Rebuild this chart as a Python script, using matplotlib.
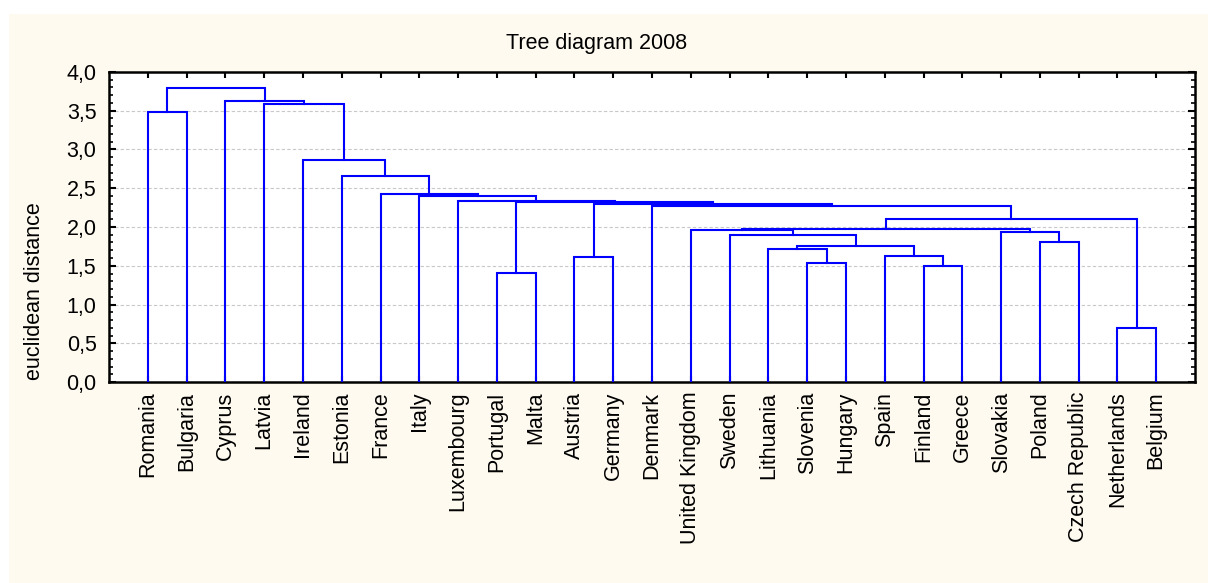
import matplotlib
matplotlib.use("Agg")
import matplotlib.pyplot as plt
from matplotlib.patches import Rectangle
from matplotlib.ticker import MultipleLocator, FuncFormatter

# leaves in plotted order
labels = ["Romania", "Bulgaria", "Cyprus", "Latvia", "Ireland", "Estonia", "France",
          "Italy", "Luxembourg", "Portugal", "Malta", "Austria", "Germany", "Denmark",
          "United Kingdom", "Sweden", "Lithuania", "Slovenia", "Hungary", "Spain",
          "Finland", "Greece", "Slovakia", "Poland", "Czech Republic", "Netherlands",
          "Belgium"]

# joins: a name is a leaf, an int is an earlier join
join_left = ["Netherlands", "Portugal", "Finland", "Slovenia", "Austria", "Spain",
             "Lithuania", 6, "Poland", "Sweden", "Slovakia", "United Kingdom", 11, 12,
             "Denmark", 4, 1, "Luxembourg", "Italy", "France", "Estonia", "Ireland",
             "Romania", "Latvia", "Cyprus", 22]
join_right = ["Belgium", "Malta", "Greece", "Hungary", "Germany", 2,
              3, 5, "Czech Republic", 7, 8, 9, 10, 0,
              13, 14, 15, 16, 17, 18, 19, 20,
              "Bulgaria", 21, 23, 24]
join_height = [0.70, 1.41, 1.50, 1.53, 1.61, 1.63, 1.71, 1.76, 1.81, 1.90, 1.93, 1.96, 1.97,
               2.10, 2.27, 2.30, 2.32, 2.34, 2.40, 2.42, 2.66, 2.86, 3.48, 3.59, 3.62, 3.79]

W, H = 1208, 583
FS = 15.5
fig = plt.figure(figsize=(W / 100, H / 100), dpi=100, facecolor="white")
plt.rcParams["font.family"] = ["Liberation Sans", "DejaVu Sans"]
fig.patches.append(Rectangle((9 / W, 0), 1 - 9 / W, (H - 14) / H, transform=fig.transFigure,
                             facecolor="#fffaf0", edgecolor="none", zorder=-10))

ax = fig.add_axes([109 / W, (H - 382) / H, (1195 - 109) / W, (382 - 72) / H])
ax.set_facecolor("white")

pos = {name: i + 1 for i, name in enumerate(labels)}
def where(c):
    if isinstance(c, int):
        return join_x[c], join_height[c]
    return pos[c], 0.0

join_x = []
for a, b, h in zip(join_left, join_right, join_height):
    xa, ya = where(a)
    xb, yb = where(b)
    ax.plot([xa, xa, xb, xb], [ya, h, h, yb], color="#0000ff", lw=1.5,
            solid_joinstyle="miter", zorder=3)
    join_x.append((xa + xb) / 2)

ax.set_xlim(0, len(labels) + 1)
ax.set_ylim(0, 4)
ax.set_xticks(range(1, len(labels) + 1))
ax.set_xticklabels(labels, rotation=90, fontsize=FS)
ax.yaxis.set_major_locator(MultipleLocator(0.5))
ax.yaxis.set_minor_locator(MultipleLocator(0.1))
ax.yaxis.set_major_formatter(FuncFormatter(lambda v, p: f"{v:.1f}".replace(".", ",")))
ax.tick_params(axis="y", labelsize=FS, direction="in", right=True, length=5, width=1.5, pad=9)
ax.tick_params(axis="y", which="minor", direction="in", right=True, length=3, width=1.2)
ax.tick_params(axis="x", direction="in", top=True, length=4, width=1.5, pad=7)
ax.grid(axis="y", color="#c8c8c8", ls=(0, (3, 2)), lw=0.8)
for s in ax.spines.values():
    s.set_linewidth(1.8)

fig.text(597 / W, (H - 43) / H, "Tree diagram 2008", ha="center", va="center", fontsize=FS)
fig.text(35 / W, (H - 291) / H, "euclidean distance", ha="center", va="center",
         rotation=90, fontsize=FS)

fig.savefig("out.png", dpi=100, facecolor="white")
